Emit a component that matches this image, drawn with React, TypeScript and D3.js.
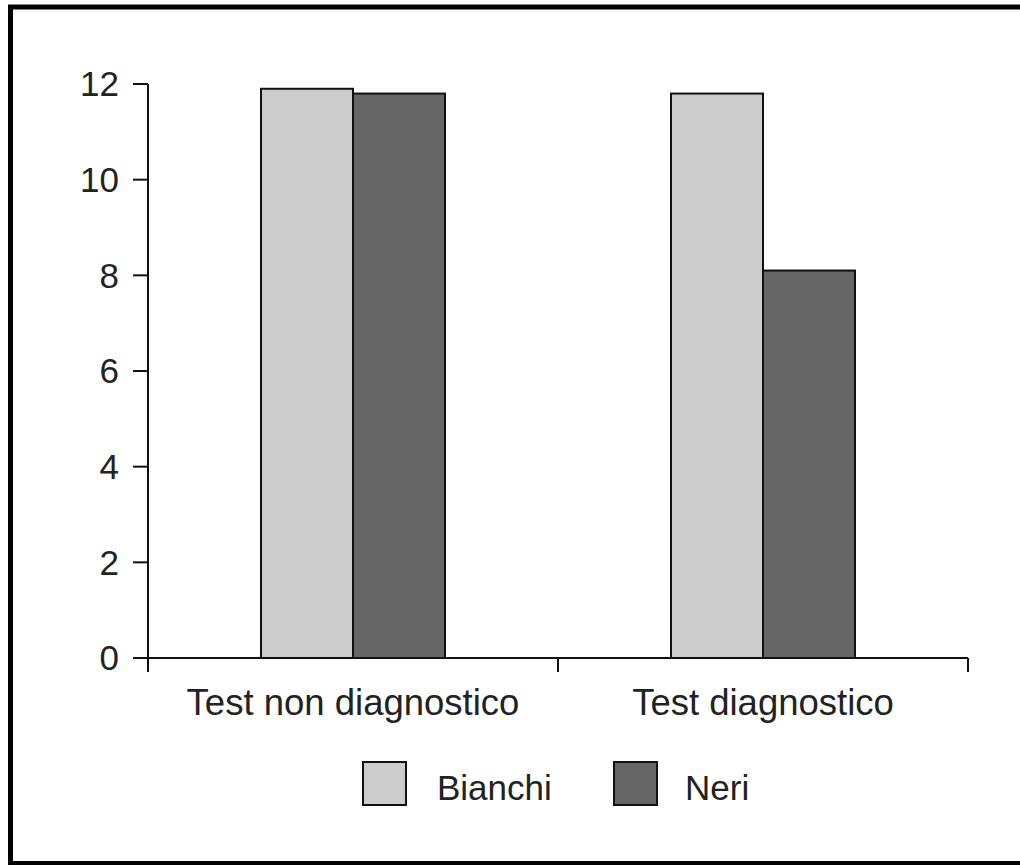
import React from "react";
import * as d3 from "d3";

const categories = ["Test non diagnostico", "Test diagnostico"];
const seriesNames = ["Bianchi", "Neri"];
const bianchiValues = [11.9, 11.8];
const neriValues = [11.8, 8.1];
const yTicks = [0, 2, 4, 6, 8, 10, 12];
const seriesColors = ["#cccccc", "#666666"];

const FONT = "'Liberation Sans', Arial, Helvetica, sans-serif";

export default function App() {
  const W = 1020;
  const H = 865;
  const left = 148;
  const right = 968;
  const top = 84;
  const bottom = 658;

  const y = d3.scaleLinear().domain([0, 12]).range([bottom, top]);
  const x0 = d3.scaleBand<string>().domain(categories).range([left, right]).padding(0);
  const x1 = d3
    .scaleBand<string>()
    .domain(seriesNames)
    .range([0, x0.bandwidth()])
    .paddingInner(0)
    .paddingOuter(1.228);

  const values = [bianchiValues, neriValues];
  const boundaries = [left, ...categories.map((c) => (x0(c) as number) + x0.bandwidth())];

  const legendItems = [
    { name: seriesNames[0], box: 363, text: 437 },
    { name: seriesNames[1], box: 614, text: 685 },
  ];

  return (
    <svg
      width={W}
      height={H}
      style={{ position: "absolute", left: 0, top: 0, background: "#fff" }}
      fontFamily={FONT}
    >
      <rect x={0} y={0} width={W} height={H} fill="#fff" />
      <path d={`M ${W} 7 H 10.5 V 863.5 H ${W}`} fill="none" stroke="#000" strokeWidth={5} />

      {/* bars */}
      {categories.map((c, ci) =>
        seriesNames.map((s, si) => {
          const v = values[si][ci];
          const bx = (x0(c) as number) + (x1(s) as number);
          return (
            <rect
              key={c + s}
              x={bx}
              y={y(v)}
              width={x1.bandwidth()}
              height={y(0) - y(v)}
              fill={seriesColors[si]}
              stroke="#111"
              strokeWidth={2}
            />
          );
        })
      )}

      {/* y axis */}
      <line x1={left} x2={left} y1={top} y2={bottom} stroke="#111" strokeWidth={2} />
      {yTicks.map((t) => (
        <g key={t}>
          <line x1={left - 15} x2={left} y1={y(t)} y2={y(t)} stroke="#111" strokeWidth={2} />
          <text
            x={left - 29}
            y={y(t)}
            dy="0.35em"
            textAnchor="end"
            fontSize={35}
            fill="#222"
          >
            {t}
          </text>
        </g>
      ))}

      {/* x axis */}
      <line x1={left} x2={right} y1={bottom} y2={bottom} stroke="#111" strokeWidth={2} />
      {boundaries.map((b, i) => (
        <line key={i} x1={b} x2={b} y1={bottom} y2={bottom + 14} stroke="#111" strokeWidth={2} />
      ))}
      {categories.map((c) => (
        <text
          key={c}
          x={(x0(c) as number) + x0.bandwidth() / 2}
          y={715}
          textAnchor="middle"
          fontSize={36.5}
          fill="#222"
        >
          {c}
        </text>
      ))}

      {/* legend */}
      {legendItems.map((l, i) => (
        <g key={l.name}>
          <rect
            x={l.box}
            y={762}
            width={43}
            height={43}
            fill={seriesColors[i]}
            stroke="#111"
            strokeWidth={2}
          />
          <text x={l.text} y={800} fontSize={35} fill="#222">
            {l.name}
          </text>
        </g>
      ))}
    </svg>
  );
}
